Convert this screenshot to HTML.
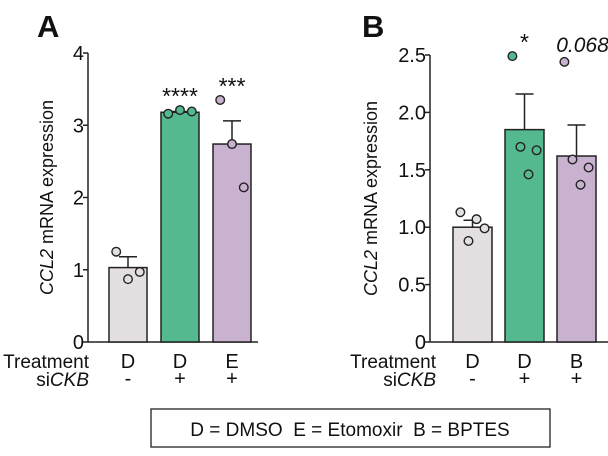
<!DOCTYPE html>
<html><head><meta charset="utf-8"><style>
body{margin:0;background:#fff;width:608px;height:451px;overflow:hidden;font-family:"Liberation Sans",sans-serif}
svg text{font-family:"Liberation Sans",sans-serif;fill:#111}
</style></head><body>
<svg width="608" height="451">
<g id="A"></g>
<g id="B"></g>
<rect x="151" y="409" width="399" height="38" fill="none" stroke="#222" stroke-width="1.3"/>
<text x="350" y="436" font-size="19" text-anchor="middle" xml:space="preserve" style="white-space:pre">D = DMSO  E = Etomoxir  B = BPTES</text>
</svg>
<script>
const catsA=["D","D","E"], sigA=["-","+","+"];
const meansA=[1.03,3.18,2.74];
const errA=[1.18,3.19,3.06];
const ptsA=[[1.25,0.87,0.97],[3.16,3.21,3.19],[3.35,2.74,2.14]];
const starsA=["","****","***"];
const ticksA=[0,1,2,3,4];
const ticksLabA=["0","1","2","3","4"];
const catsB=["D","D","B"], sigB=["-","+","+"];
const meansB=[1.0,1.85,1.62];
const errB=[1.06,2.16,1.89];
const ptsB=[[1.13,0.88,1.07,0.99],[2.49,1.70,1.46,1.67],[2.44,1.59,1.37,1.52]];
const starsB=["","*","0.068"];
const ticksB=[0,0.5,1,1.5,2,2.5];
const ticksLabB=["0","0.5","1.0","1.5","2.0","2.5"];
const colors=["#e4e0e1","#55b990","#c9b2d0"];
const NS="http://www.w3.org/2000/svg";
function mk(p,t,a,txt){const e=document.createElementNS(NS,t);for(const k in a)e.setAttribute(k,a[k]);if(txt!==undefined)e.textContent=txt;p.appendChild(e);return e;}
function panel(g,o){
 const y=v=>o.y0-(v-0)*(o.y0-o.yTop)/o.max;
 const bx=i=>o.bx0+i*o.step;
 let e=mk(g,"text",{x:o.lx,y:37,"font-size":31,"font-weight":"bold"},o.letter);
 
 
 e=mk(g,"line",{x1:o.ax,y1:y(o.max),x2:o.ax,y2:o.y0,stroke:"#222","stroke-width":1.5});
 
 
 e=mk(g,"line",{x1:o.ax,y1:o.y0,x2:o.axEnd,y2:o.y0,stroke:"#222","stroke-width":1.5});
 
 
 o.ticks.forEach((t,i)=>{
  e=mk(g,"line",{x1:o.ax-5,y1:y(t),x2:o.ax,y2:y(t),stroke:"#222","stroke-width":1.5});
  
  
  e=mk(g,"text",{x:o.ax-4,y:y(t)+7,"font-size":20,"text-anchor":"end"},o.tickLab[i]);
  
  
 });
 const t=mk(g,"text",{x:0,y:0,"font-size":18,"text-anchor":"middle",transform:`translate(${o.tx},${(o.y0+y(o.max))/2}) rotate(-90)`});
 
 
 mk(t,"tspan",{"font-style":"italic"},"CCL2");mk(t,"tspan",{},"\u00a0mRNA expression");
 o.means.forEach((m,i)=>{
  const x=bx(i),c=x+o.bw/2;
  e=mk(g,"line",{x1:c,y1:y(m),x2:c,y2:y(o.err[i]),stroke:"#222","stroke-width":1.5});
  
  
  e=mk(g,"line",{x1:c-9,y1:y(o.err[i]),x2:c+9,y2:y(o.err[i]),stroke:"#222","stroke-width":1.5});
  
  
  e=mk(g,"rect",{x:x,y:y(m),width:o.bw,height:o.y0-y(m),fill:colors[i],stroke:"#222","stroke-width":1.5});
  
  
  const n=o.pts[i].length;
  o.pts[i].forEach((v,j)=>{
   const px=c+(n===1?0:(j/(n-1)-0.5)*o.bw*0.62);
   e=mk(g,"circle",{cx:px,cy:y(v),r:4.3,fill:colors[i],stroke:"#222","stroke-width":1.4});
   
   
  });
  if(o.stars[i]){
   const top=Math.max(...o.pts[i],o.err[i]);
   const isNum=/\d/.test(o.stars[i]);
   e=mk(g,"text",{x:isNum?c+6:c,y:isNum?y(top)-10:y(top)-6,"font-size":isNum?21:23,"font-style":isNum?"italic":"normal","text-anchor":"middle"},o.stars[i]);
   
   
  }
  e=mk(g,"text",{x:c,y:o.y0+26,"font-size":20,"text-anchor":"middle"},o.cats[i]);
  
  
  e=mk(g,"text",{x:c,y:o.y0+43,"font-size":20,"text-anchor":"middle"},o.sig[i]);
  
  
 });
 e=mk(g,"text",{x:o.rx,y:o.y0+26,"font-size":19,"text-anchor":"end"},"Treatment");
 
 
 const s=mk(g,"text",{x:o.rx,y:o.y0+44,"font-size":19,"text-anchor":"end"});
 
 
 mk(s,"tspan",{},"si");mk(s,"tspan",{"font-style":"italic"},"CKB");
}
panel(document.getElementById("A"),{letter:"A",lx:37,ax:88,axEnd:258,y0:342,yTop:53,max:4,ticks:ticksA,tickLab:ticksLabA,tx:53,bx0:109,step:52,bw:38,means:meansA,err:errA,pts:ptsA,stars:starsA,cats:catsA,sig:sigA,rx:89});
panel(document.getElementById("B"),{letter:"B",lx:362,ax:430,axEnd:608,y0:342,yTop:55,max:2.5,ticks:ticksB,tickLab:ticksLabB,tx:377,bx0:453,step:52,bw:39,means:meansB,err:errB,pts:ptsB,stars:starsB,cats:catsB,sig:sigB,rx:436});
</script>
</body></html>
